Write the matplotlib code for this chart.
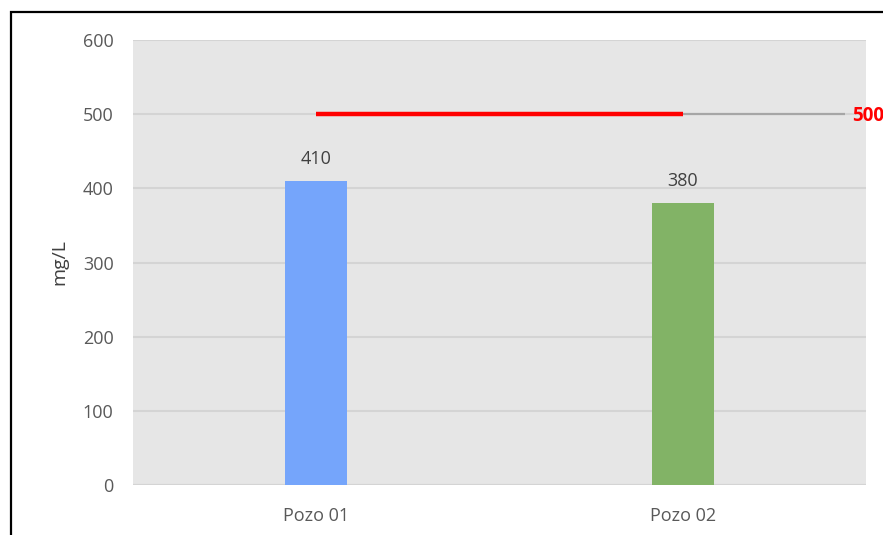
import matplotlib.pyplot as plt
from matplotlib.patches import Rectangle

# data
pozos = ['Pozo 01', 'Pozo 02']
valores = [410, 380]
colores = ['#75a5fb', '#82b366']
limite = 500

plt.rcParams['font.family'] = ['Open Sans', 'DejaVu Sans']

fig = plt.figure(figsize=(8.83, 5.35), dpi=100)
ax = fig.add_axes([133/883, 1-485/535, 733/883, 445/535])
ax.set_facecolor('#e6e6e6')

x = list(range(len(pozos)))
bars = ax.bar(x, valores, width=0.17, color=colores, zorder=3)
for xi, v in zip(x, valores):
    ax.text(xi, v + 18, str(v), ha='center', va='bottom', fontsize=13, color='#404040', zorder=4)

# limit line: red between the wells, grey tail to the label
ax.plot([x[0], x[-1]], [limite, limite], color='#ff0000', lw=3.2, zorder=5, solid_capstyle='butt')
ax.plot([x[-1], x[-1] + 0.443], [limite, limite], color='#a6a6a6', lw=1.6, zorder=4, solid_capstyle='butt')
ax.text(x[-1] + 0.462, limite - 3, str(limite), color='#ff0000', fontsize=13.5, fontweight='bold',
        ha='left', va='center', clip_on=False)

ax.set_xlim(-0.5, 1.5)
ax.set_ylim(0, 600)
ax.set_yticks(range(0, 601, 100))
ax.set_xticks(x)
ax.set_xticklabels(pozos)
ax.yaxis.grid(True, color='#d4d4d4', lw=1.5, zorder=0)
ax.set_axisbelow(True)
for s in ax.spines.values():
    s.set_visible(False)
ax.axhline(0, color='#d4d4d4', lw=1.5, zorder=2)
ax.tick_params(axis='both', length=0, labelsize=13, colors='#595959')
ax.tick_params(axis='y', pad=14)
ax.tick_params(axis='x', pad=16)
ax.set_ylabel('mg/L', fontsize=14, color='#404040', labelpad=10)

# outer frame of the original chart (cropped right and bottom)
fig.patches.append(Rectangle((11/883, -0.2), 1.5, 1.2 - 12/535, transform=fig.transFigure,
                             fill=False, edgecolor='black', lw=1.6))

fig.savefig('out.png', dpi=100)
